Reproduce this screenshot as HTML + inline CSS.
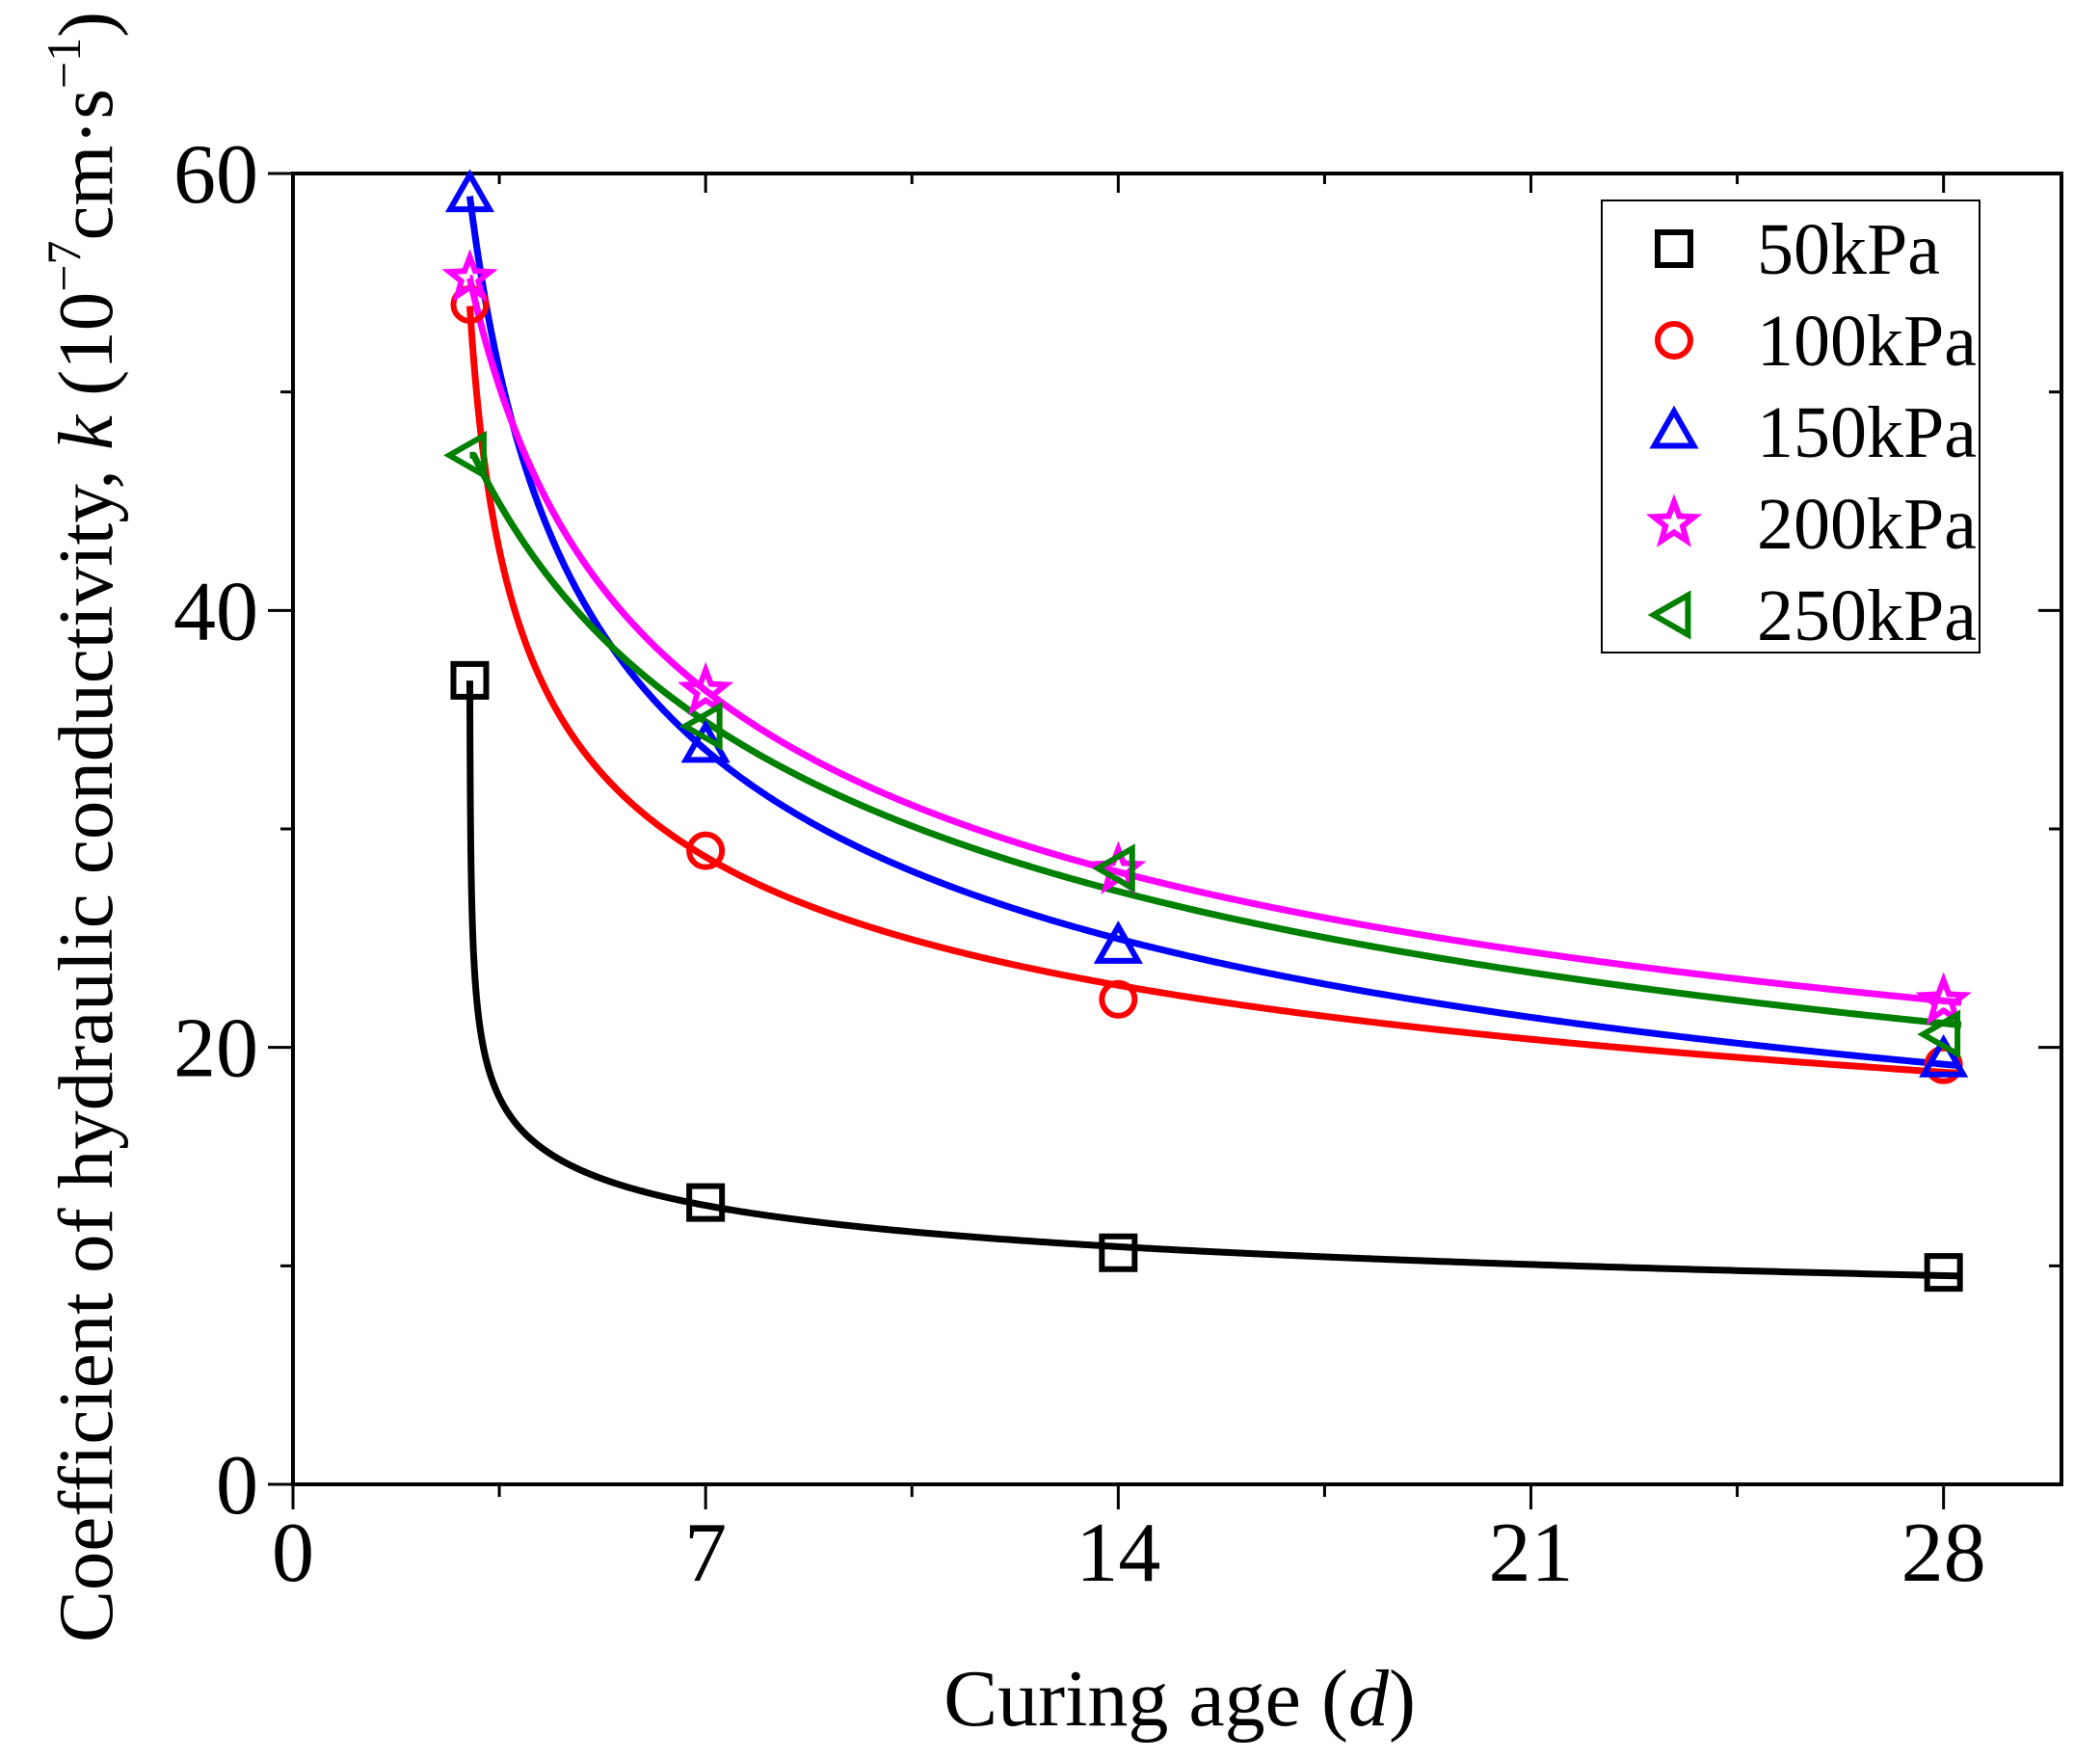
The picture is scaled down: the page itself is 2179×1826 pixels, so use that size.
<!DOCTYPE html>
<html><head><meta charset="utf-8">
<style>
html,body{margin:0;padding:0;background:#fff;}
svg{display:block;font-family:"Liberation Serif",serif;}
</style></head>
<body>
<svg id="chart" width="2179" height="1826" viewBox="0 0 2179 1826" xmlns="http://www.w3.org/2000/svg">
<g id="axes"></g>
<g id="curves"></g>
<g id="markers"></g>
<text x="1224" y="1790" font-size="84" text-anchor="middle">Curing age (<tspan font-style="italic">d</tspan>)</text>
<text transform="translate(116,858) rotate(-90)" font-size="81" text-anchor="middle">Coefficient of hydraulic conductivity, <tspan font-style="italic">k</tspan> (10<tspan font-size="50" dy="-33">−7</tspan><tspan dy="33">cm·s</tspan><tspan font-size="50" dy="-33">−1</tspan><tspan dy="33">)</tspan></text>
<g id="legend"></g>
</svg>
<script>
const xValues = [3, 7, 14, 28];
const seriesNames = ["50kPa", "100kPa", "150kPa", "200kPa", "250kPa"];
const kPa50 = [36.8, 12.9, 10.6, 9.7];
const kPa100 = [54.0, 29.0, 22.2, 19.2];
const kPa150 = [59.0, 33.8, 24.6, 19.4];
const kPa200 = [55.2, 36.3, 28.1, 22.1];
const kPa250 = [47.1, 34.7, 28.2, 20.6];
const xTicks = [0, 7, 14, 21, 28];
const yTicks = [0, 20, 40, 60];

const seriesData = [kPa50, kPa100, kPa150, kPa200, kPa250];
const colors = ["#000000", "#ff0000", "#0000ff", "#ff00ff", "#008000"];
const shapes = ["square", "circle", "triangle", "star", "ltriangle"];
const NS = "http://www.w3.org/2000/svg";
const L = 304, R = 2139, T = 180, B = 1540;
const X = v => L + v / 30.0 * (R - L);
const Y = v => B - v / 60 * (B - T);
function mk(tag, attrs, parent) {
  const e = document.createElementNS(NS, tag);
  for (const k in attrs) e.setAttribute(k, attrs[k]);
  parent.appendChild(e);
  return e;
}
const axes = document.getElementById("axes");
const frame = mk("rect", {x: L, y: T, width: R - L, height: B - T, fill: "none", stroke: "#000", "stroke-width": 4}, axes);


xTicks.forEach(t => {
  const x = X(t);
  mk("line", {x1: x, x2: x, y1: B, y2: B + 26, stroke: "#000", "stroke-width": 3}, axes);
  mk("line", {x1: x, x2: x, y1: T, y2: T + 20, stroke: "#000", "stroke-width": 3}, axes);
  const lab = mk("text", {x: x, y: B + 100, "font-size": 88, "text-anchor": "middle"}, axes);
  lab.textContent = t;
  
  
});
[3.5, 10.5, 17.5, 24.5].forEach(t => {
  const x = X(t);
  mk("line", {x1: x, x2: x, y1: B, y2: B + 13, stroke: "#000", "stroke-width": 3}, axes);
  mk("line", {x1: x, x2: x, y1: T, y2: T + 11, stroke: "#000", "stroke-width": 3}, axes);
});
yTicks.forEach(t => {
  const y = Y(t);
  mk("line", {x1: L - 26, x2: L, y1: y, y2: y, stroke: "#000", "stroke-width": 3}, axes);
  mk("line", {x1: R - 24, x2: R, y1: y, y2: y, stroke: "#000", "stroke-width": 3}, axes);
  const lab = mk("text", {x: L - 36, y: y + 30, "font-size": 88, "text-anchor": "end"}, axes);
  lab.textContent = t;
  
  
});
[10, 30, 50].forEach(t => {
  const y = Y(t);
  mk("line", {x1: L - 13, x2: L, y1: y, y2: y, stroke: "#000", "stroke-width": 3}, axes);
  mk("line", {x1: R - 13, x2: R, y1: y, y2: y, stroke: "#000", "stroke-width": 3}, axes);
});

function fit(ys) {
  let best = null;
  for (let s = 0; s < xValues[0]; s += 0.001) {
    const lx = xValues.map(x => Math.log(x - s)), ly = ys.map(Math.log);
    const n = lx.length, mx = lx.reduce((a, b) => a + b) / n, my = ly.reduce((a, b) => a + b) / n;
    let sxy = 0, sxx = 0;
    for (let i = 0; i < n; i++) { sxy += (lx[i] - mx) * (ly[i] - my); sxx += (lx[i] - mx) ** 2; }
    const p = sxy / sxx, a = my - p * mx;
    let err = 0;
    for (let i = 0; i < n; i++) err += (Math.exp(a + p * lx[i]) - ys[i]) ** 2;
    if (!best || err < best.err) best = {s, p, a, err};
  }
  return best;
}
function markerPath(shape, cx, cy) {
  const r = 17;
  if (shape === "square") return `M${cx-r},${cy-r}h${2*r}v${2*r}h${-2*r}Z`;
  if (shape === "triangle") return `M${cx},${cy-r*1.25}L${cx+r*1.2},${cy+r*0.85}L${cx-r*1.2},${cy+r*0.85}Z`;
  if (shape === "ltriangle") return `M${cx-r*1.25},${cy}L${cx+r*0.85},${cy-r*1.2}L${cx+r*0.85},${cy+r*1.2}Z`;
  if (shape === "star") {
    let d = "";
    for (let i = 0; i < 10; i++) {
      const rr = i % 2 ? r * 0.55 : r * 1.3, ang = -Math.PI / 2 + i * Math.PI / 5;
      d += (i ? "L" : "M") + (cx + rr * Math.cos(ang)) + "," + (cy + rr * Math.sin(ang));
    }
    return d + "Z";
  }
  return `M${cx-r},${cy}a${r},${r} 0 1,0 ${2*r},0a${r},${r} 0 1,0 ${-2*r},0`;
}
const curves = document.getElementById("curves"), markers = document.getElementById("markers");
seriesData.forEach((ys, si) => {
  const f = fit(ys);
  let d = "";
  const x0 = xValues[0], x1 = xValues[xValues.length - 1] + 0.3;
  for (let i = 0; i <= 600; i++) {
    const t = i / 600, x = x0 + (x1 - x0) * Math.pow(t, 2.2);
    let y = Math.exp(f.a + f.p * Math.log(x - f.s));
    if (y > ys[0]) y = ys[0];
    d += (i ? "L" : "M") + X(x).toFixed(2) + "," + Y(y).toFixed(2);
  }
  const c = mk("path", {d: d, fill: "none", stroke: colors[si], "stroke-width": 7}, curves);
  
  
  ys.forEach((v, i) => {
    const m = mk("path", {d: markerPath(shapes[si], X(xValues[i]), Y(v)), fill: "none", stroke: colors[si], "stroke-width": 6}, markers);
    
    
  });
});
const legend = document.getElementById("legend");
const lbox = mk("rect", {x: 1662, y: 208, width: 392, height: 469, fill: "#fff", stroke: "#000", "stroke-width": 2}, legend);


seriesNames.forEach((n, i) => {
  const y = 258 + i * 95;
  const m = mk("path", {d: markerPath(shapes[i], 1737, y), fill: "none", stroke: colors[i], "stroke-width": 6}, legend);
  
  
  const t = mk("text", {x: 1823, y: y + 26, "font-size": 76}, legend);
  t.textContent = n;
  
  
});
</script>
</body></html>
